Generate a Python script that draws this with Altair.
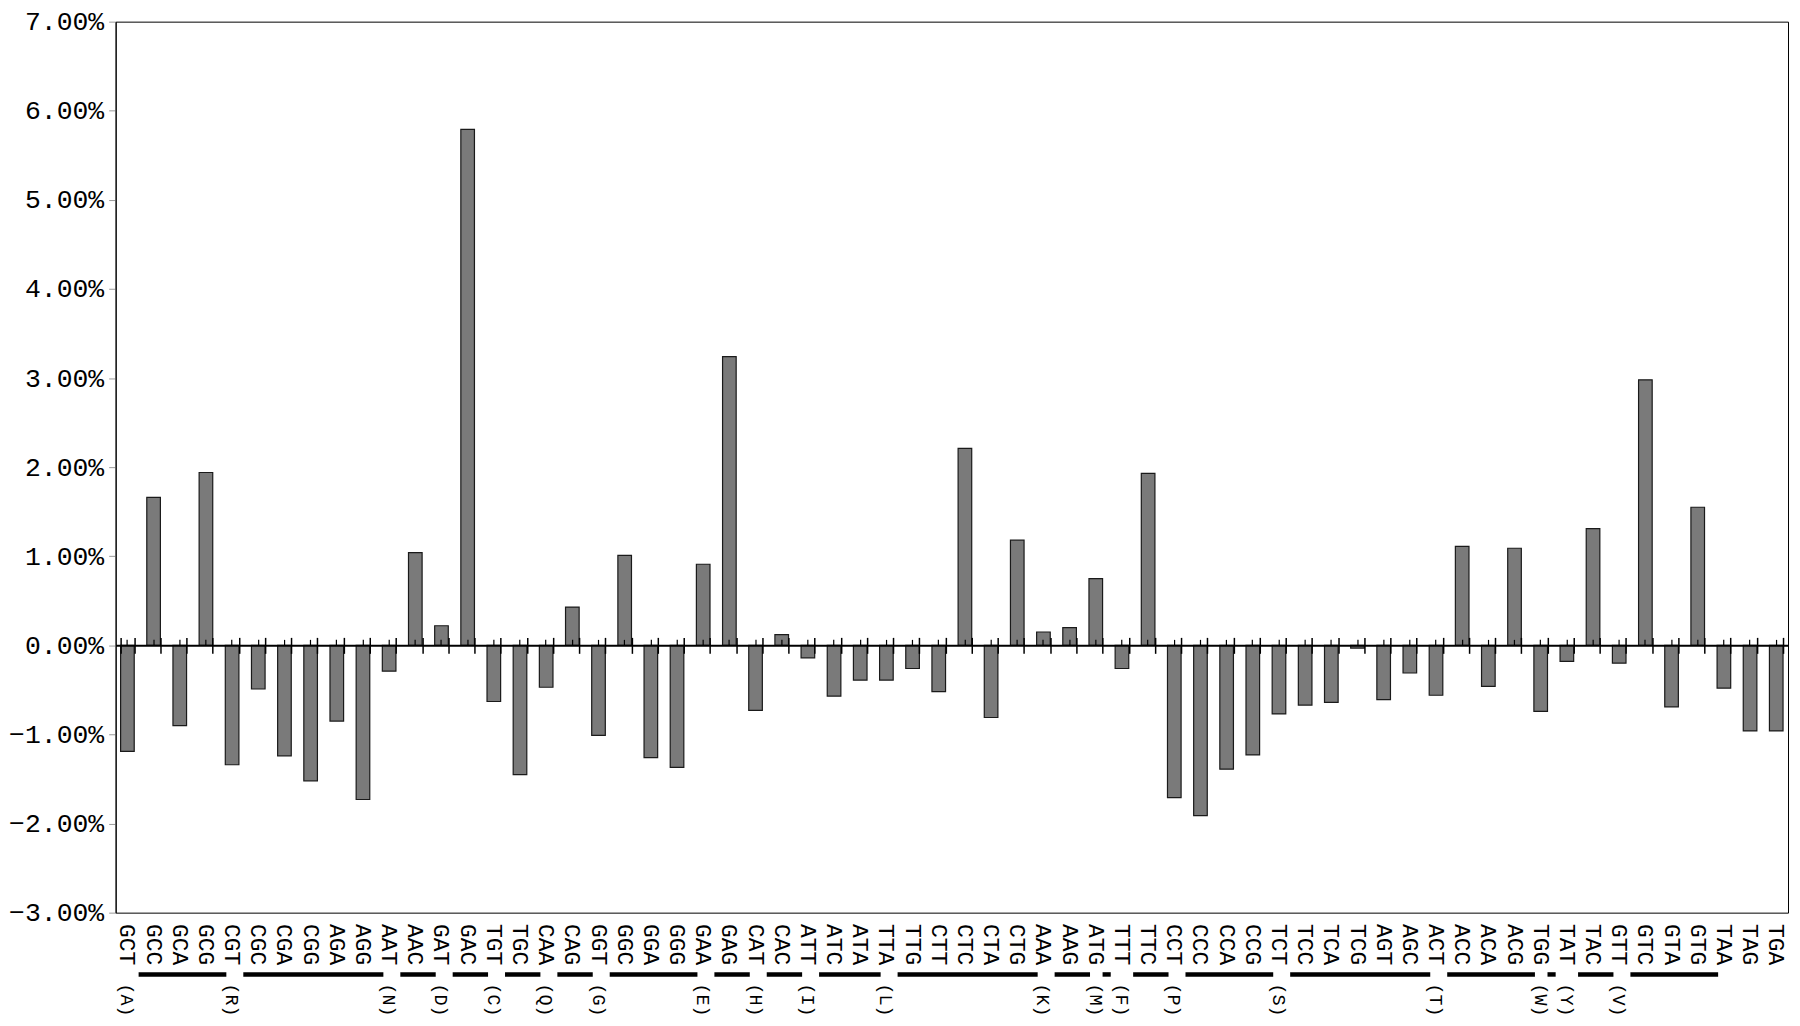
import altair as alt
import pandas as pd

FONT = "Liberation Mono"

codons = ["GCT", "GCC", "GCA", "GCG", "CGT", "CGC", "CGA", "CGG", "AGA", "AGG",
          "AAT", "AAC", "GAT", "GAC", "TGT", "TGC", "CAA", "CAG", "GGT", "GGC",
          "GGA", "GGG", "GAA", "GAG", "CAT", "CAC", "ATT", "ATC", "ATA", "TTA",
          "TTG", "CTT", "CTC", "CTA", "CTG", "AAA", "AAG", "ATG", "TTT", "TTC",
          "CCT", "CCC", "CCA", "CCG", "TCT", "TCC", "TCA", "TCG", "AGT", "AGC",
          "ACT", "ACC", "ACA", "ACG", "TGG", "TAT", "TAC", "GTT", "GTC", "GTA",
          "GTG", "TAA", "TAG", "TGA"]

values = [-1.19, 1.66, -0.90, 1.94, -1.34, -0.49, -1.24, -1.52, -0.85, -1.73,
          -0.29, 1.04, 0.22, 5.79, -0.63, -1.45, -0.47, 0.43, -1.01, 1.01,
          -1.26, -1.37, 0.91, 3.24, -0.73, 0.12, -0.14, -0.57, -0.39, -0.39,
          -0.26, -0.52, 2.21, -0.81, 1.18, 0.15, 0.20, 0.75, -0.26, 1.93,
          -1.71, -1.91, -1.39, -1.23, -0.77, -0.67, -0.64, -0.03, -0.61, -0.31,
          -0.56, 1.11, -0.46, 1.09, -0.74, -0.18, 1.31, -0.20, 2.98, -0.69,
          1.55, -0.48, -0.96, -0.96]

# amino-acid label placed under the first codon of each group
aa_codons = ["GCT", "CGT", "AAT", "GAT", "TGT", "CAA", "GGT", "GAA", "CAT", "ATT",
             "TTA", "AAA", "ATG", "TTT", "CCT", "TCT", "ACT", "TGG", "TAT", "GTT"]
aa_names = ["(A)", "(R)", "(N)", "(D)", "(C)", "(Q)", "(G)", "(E)", "(H)", "(I)",
            "(L)", "(K)", "(M)", "(F)", "(P)", "(S)", "(T)", "(W)", "(Y)", "(V)"]

# underlines spanning the remaining synonymous codons
ul_start = ["GCC", "CGC", "AAC", "GAC", "TGC", "CAG", "GGC", "GAG", "CAC", "ATC",
            "TTG", "AAG", "TTC", "CCC", "TCC", "ACC", "TAC", "GTC"]
ul_end = ["GCG", "AGG", "AAC", "GAC", "TGC", "CAG", "GGG", "GAG", "CAC", "ATA",
          "CTG", "AAG", "TTC", "CCG", "AGC", "ACG", "TAC", "GTG"]

# single-codon groups get a short dash
dash_codons = ["ATG", "TGG"]

aa_map = dict(zip(aa_codons, aa_names))
ul_map = dict(zip(ul_start, ul_end))
df = pd.DataFrame({
    "codon": codons,
    "value": values,
    "aa": [aa_map.get(c, "") for c in codons],
    "ul_end": [ul_map.get(c, "") for c in codons],
    "dash": [c in dash_codons for c in codons],
})

W, H = 1678, 894
P_IN, P_OUT = 0.48, 0.19
step = W / (len(codons) - P_IN + 2 * P_OUT)
bw = step * (1 - P_IN)
xscale = alt.Scale(domain=codons, paddingInner=P_IN, paddingOuter=P_OUT)
yscale = alt.Scale(domain=[-3, 7], nice=False)

base = alt.Chart(df)

bars = base.mark_bar(fill="#7a7a7a", stroke="#1a1a1a", strokeWidth=1.2).encode(
    x=alt.X("codon:N", scale=xscale,
            axis=alt.Axis(title=None, labelAngle=90, labelAlign="left",
                          labelBaseline="middle", labelFont=FONT,
                          labelFontSize=23, labelColor="black",
                          labelPadding=11, ticks=False, domain=False,
                          labelOverlap=False, grid=False)),
    y=alt.Y("value:Q", scale=yscale,
            axis=alt.Axis(title=None, values=list(range(-3, 8)),
                          labelExpr="format(datum.value, '.2f') + '%'",
                          labelFont=FONT, labelFontSize=26.5, labelColor="black",
                          labelPadding=5, tickSize=7, tickColor="#9a9a9a",
                          domainColor="black", domainWidth=1, grid=False)),
)

zero_bottom = base.mark_bar(opacity=0).encode(
    x=alt.X("codon:N", scale=xscale,
            axis=alt.Axis(orient="bottom", offset=-0.3 * H, labels=False,
                          title=None, domain=True, domainColor="black",
                          domainWidth=2, ticks=True, tickBand="extent",
                          tickSize=8, tickColor="black", tickWidth=1.5,
                          grid=False, zindex=2)),
    y=alt.Y("value:Q", scale=yscale, axis=None),
)

zero_top = base.mark_bar(opacity=0).encode(
    x=alt.X("codon:N", scale=xscale,
            axis=alt.Axis(orient="top", offset=-0.7 * H, labels=False,
                          title=None, domain=False, ticks=True,
                          tickBand="extent", tickSize=8, tickColor="black",
                          tickWidth=1.5, grid=False, zindex=2)),
    y=alt.Y("value:Q", scale=yscale, axis=None),
)

zero_center = base.mark_bar(opacity=0).encode(
    x=alt.X("codon:N", scale=xscale,
            axis=alt.Axis(orient="top", offset=-0.7 * H, labels=False,
                          title=None, domain=False, ticks=True,
                          tickBand="center", tickSize=6, tickColor="black",
                          tickWidth=1.2, grid=False, zindex=2)),
    y=alt.Y("value:Q", scale=yscale, axis=None),
)

underlines = base.transform_filter("datum.ul_end != ''").mark_rule(
    color="black", strokeWidth=4.5, xOffset=-0.6 * bw, x2Offset=1.0 * bw).encode(
    x=alt.X("codon:N", scale=xscale, bandPosition=0, axis=None),
    x2=alt.X2("ul_end:N", bandPosition=1),
    y=alt.value(H + 62),
)

dashes = base.transform_filter("datum.dash").mark_rule(
    color="black", strokeWidth=4.5, xOffset=0, x2Offset=0.6 * bw).encode(
    x=alt.X("codon:N", scale=xscale, bandPosition=1, axis=None),
    x2=alt.X2("codon:N", bandPosition=1),
    y=alt.value(H + 62),
)

aa_text = base.transform_filter("datum.aa != ''").mark_text(
    angle=90, align="left", baseline="middle", font=FONT, fontSize=18.5,
    color="black").encode(
    x=alt.X("codon:N", scale=xscale, axis=None),
    y=alt.value(H + 71),
    text="aa:N",
)

chart = alt.layer(
    bars, zero_bottom, zero_top, zero_center, underlines, dashes, aa_text
).resolve_axis(x="independent", y="independent").properties(
    width=W, height=H,
    padding={"left": 108, "top": 12, "right": 4, "bottom": 104},
    autosize=alt.AutoSizeParams(type="none"),
    background="white",
).configure_view(stroke="black", strokeWidth=1)

chart.save("out.html", embed_options={"renderer": "svg", "actions": False})
